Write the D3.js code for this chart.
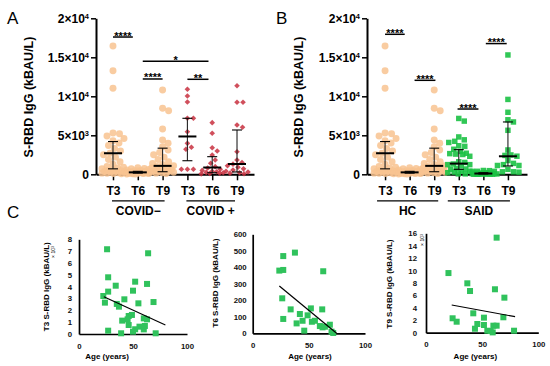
<!DOCTYPE html>
<html>
<head>
<meta charset="utf-8">
<script src="https://cdn.jsdelivr.net/npm/d3@7"></script>
<style>
body { margin: 0; background: #fff; }
svg { font-family: "Liberation Sans", Arial, sans-serif; }
</style>
</head>
<body>
<script>
"use strict";

// ---- data ----
var timeLabels = ["T3", "T6", "T9", "T3", "T6", "T9"];
var yTicks = [0, 5000, 10000, 15000, 20000];

// HC / COVID- (same cohort in A and B), kBAU/L
var hcT3 = [16450, 13280, 11030, 5300, 5200, 4900, 4600, 4300, 4000, 3700, 3300, 3000, 2700, 2500, 2200, 1900,
            1600, 1300, 1000, 900, 800, 700, 600, 500, 450, 400, 350, 300, 250, 200, 150, 120, 100, 80];
var hcT6 = [850, 750, 700, 620, 560, 500, 450, 420, 380, 350, 320, 300, 280, 260, 250, 240, 220, 200, 190, 170,
            150, 140, 120, 100, 90, 70, 50, 30];
var hcT9 = [10810, 8470, 8160, 5810, 4400, 3970, 3540, 3120, 2800, 2500, 2200, 1900, 1600, 1400, 1250, 1100,
            1000, 900, 800, 700, 600, 500, 450, 400, 350, 300, 250, 200, 150, 100];

// COVID+
var covT3 = [10900, 10040, 9270, 7180, 7180, 5460, 3970, 3460, 3210, 640, 640, 640];
var covT6 = [6620, 5260, 3410, 2990, 2480, 1840, 1410, 980, 800, 650, 500, 400, 330, 250, 200, 150, 100, 60];
var covT9 = [11360, 9230, 9230, 6320, 6030, 2900, 1840, 1500, 1300, 1100, 900, 700, 550, 400, 300, 200, 150, 80];

// SAID: age (years) and S-RBD IgG (T3, T9 in 10^3 kBAU/L; T6 in kBAU/L)
var saidT3Age = [26, 64, 27, 34, 52, 63, 50, 27, 22.5, 42, 24, 55, 69, 35, 37, 46, 49, 40, 45, 46, 60, 63, 56,
                 60, 61, 52, 50, 27, 39, 71];
var saidT3Val = [7.16, 6.82, 4.79, 4.08, 4.42, 4.23, 3.66, 3.58, 3.21, 2.93, 2.65, 2.59, 2.70, 2.54, 2.31, 1.52,
                 1.61, 1.13, 1.24, 0.76, 1.32, 1.24, 0.62, 0.39, 0.68, 0.40, 0.20, 0.28, 0.06, 0.06];
var saidT6Age = [37.6, 27.2, 23.7, 27.2, 62.8, 26.3, 33.8, 27.2, 42, 51.8, 61.9, 48.9, 39.1, 44.4, 52.7, 55.4,
                 59.8, 62.2, 64.3, 68.7, 45.9, 70.2, 71.7];
var saidT6Val = [489, 468, 380, 384, 376, 212, 145, 87, 117, 151, 145, 109, 60, 76, 70, 76, 44, 36, 40, 52, 16, 10, 2];
var saidT9Age = [62.9, 20, 36.8, 39.2, 61.4, 69.8, 42.1, 51.6, 68.9, 23.7, 27.3, 45.7, 51.6, 60, 62.9, 43.6,
                 54.6, 57.6, 59.4, 78.4];
var saidT9Val = [15.3, 9.6, 7.95, 6.71, 6.99, 5.64, 3.12, 2.42, 2.48, 2.32, 1.77, 1.40, 1.24, 1.13, 1.13, 0.64,
                 0.32, 0.27, 0.05, 0.32];

// median and interquartile range per column
var medA = [2700, 250, 1080, 4850, 870, 1320];
var q1A  = [700, 150, 330, 1740, 200, 300];
var q3A  = [4200, 380, 3350, 7180, 2260, 5680];
var medB = [2700, 250, 1080, 1370, 100, 2310];
var q1B  = [700, 150, 330, 640, 40, 1070];
var q3B  = [4200, 380, 3350, 3160, 200, 6710];

// significance brackets (column index from / to, level in kBAU/L)
var sigAFrom = [0, 1.2, 1.2, 3.0], sigATo = [0.8, 3.85, 2.0, 3.85];
var sigALevel = [17600, 14500, 12220, 12180], sigAText = ["****", "*", "****", "**"];
var sigBFrom = [0, 1.2, 2.95, 4.1], sigBTo = [0.8, 2.05, 3.8, 4.95];
var sigBLevel = [17950, 12050, 8370, 16760], sigBText = ["****", "****", "****", "****"];

// regression lines in C
var fitT3Age = [23, 80], fitT3Val = [3.15, 0.76];
var fitT6Age = [23.7, 74.7], fitT6Val = [287, 0];
var fitT9Age = [22.9, 79.3], fitT9Val = [4.46, 2.58];

var ORANGE = "#f8c391", RED = "#c8303f", GREEN = "#1bc144", GREEN_C = "#30c25c";

var svg = d3.select("body").append("svg")
    .attr("width", 550)
    .attr("height", 366);
svg.append("rect").attr("width", 550).attr("height", 366).attr("fill", "#fff");

// simple beeswarm: spread points sideways so they don't overlap
function swarm(vals, y, r, maxDx) {
  var pts = vals.map(function(v){ return {v: v, py: y(v)}; })
      .sort(function(a, b){ return b.v - a.v; });
  var placed = [];
  pts.forEach(function(p){
    var best = 0, bestScore = -1, done = false;
    for (var k = 0; k <= maxDx * 2 && !done; k++) {
      var cands = k === 0 ? [0] : [k * 0.5, -k * 0.5];
      for (var c = 0; c < cands.length; c++) {
        var dx = cands[c], minD = Infinity;
        placed.forEach(function(q){
          var d = Math.hypot(q.dx - dx, q.py - p.py);
          if (d < minD) minD = d;
        });
        if (minD >= 2 * r) { best = dx; done = true; break; }
        if (minD > bestScore) { bestScore = minD; best = dx; }
      }
    }
    p.dx = best;
    placed.push(p);
  });
  return pts;
}

function sciTicks(g) {
  g.selectAll(".tick text").each(function(d){
    var t = d3.select(this).text(null);
    if (d === 0) { t.text("0"); return; }
    var e = Math.floor(Math.log10(d)), m = d / Math.pow(10, e);
    t.append("tspan").text(m + "×10");
    t.append("tspan").attr("dy", "-0.55em").attr("font-size", "0.62em").text(e);
  });
}

function dotPanel(opt) {
  var g = svg.append("g");
  var y = d3.scaleLinear().domain([0, 20000]).range([174.3, 18.3]);
  var x = d3.scaleLinear().domain(opt.xDomain).range([opt.left, opt.right]);

  // y axis
  var gy = g.append("g")
      .attr("transform", "translate(" + opt.left + ",0)")
      .call(d3.axisLeft(y).tickValues(yTicks).tickSize(5).tickPadding(2).tickSizeOuter(0))
      .call(sciTicks);
  gy.selectAll("text").attr("font-size", 12).attr("font-weight", "bold").attr("fill", "#000");
  gy.selectAll("line").attr("stroke-width", 1.5);
  gy.select(".domain").attr("stroke-width", 2);

  // x axis
  var gx = g.append("g")
      .attr("transform", "translate(0," + y(0) + ")")
      .call(d3.axisBottom(x).tickValues(d3.range(6)).tickSize(6).tickPadding(6).tickSizeOuter(0)
        .tickFormat(function(i){ return timeLabels[i]; }));
  gx.selectAll("text").attr("font-size", 12).attr("font-weight", "bold").attr("fill", "#000");
  gx.selectAll("line").attr("stroke-width", 1.5);
  gx.select(".domain").attr("stroke-width", 2);

  g.append("text")
      .attr("transform", "translate(" + opt.labelX + ",97) rotate(-90)")
      .attr("dy", "0.35em")
      .attr("text-anchor", "middle")
      .attr("font-size", 12.5)
      .attr("font-weight", "bold")
      .text("S-RBD IgG (kBAU/L)");

  // points
  opt.columns.forEach(function(col, i){
    var pts = swarm(col.values, y, col.r, 11);
    var sym = d3.symbol().type(col.symbol).size(col.size);
    g.append("g").selectAll("path").data(pts).enter().append("path")
        .attr("transform", function(d){ return "translate(" + (x(i) + d.dx) + "," + d.py + ")"; })
        .attr("d", sym)
        .attr("fill", col.color)
        .attr("fill-opacity", col.opacity);
  });

  // median + IQR
  var eb = g.append("g").attr("stroke", "#000");
  d3.range(6).forEach(function(i){
    var cx = x(i);
    eb.append("line").attr("x1", cx).attr("x2", cx).attr("y1", y(opt.q1[i])).attr("y2", y(opt.q3[i]))
        .attr("stroke-width", 1.1).attr("stroke", "#222");
    [opt.q1[i], opt.q3[i]].forEach(function(v){
      eb.append("line").attr("x1", cx - 5).attr("x2", cx + 5).attr("y1", y(v)).attr("y2", y(v))
          .attr("stroke-width", 1.1);
    });
    eb.append("line").attr("x1", cx - 9).attr("x2", cx + 9).attr("y1", y(opt.med[i])).attr("y2", y(opt.med[i]))
        .attr("stroke-width", 2);
  });

  // significance brackets
  opt.sigFrom.forEach(function(f, i){
    var yy = y(opt.sigLevel[i]);
    g.append("line").attr("x1", x(f)).attr("x2", x(opt.sigTo[i])).attr("y1", yy).attr("y2", yy)
        .attr("stroke", "#000").attr("stroke-width", 1.5);
    g.append("text").attr("x", (x(f) + x(opt.sigTo[i])) / 2).attr("y", yy + 2.5)
        .attr("text-anchor", "middle").attr("font-size", 11).attr("font-weight", "bold")
        .text(opt.sigText[i]);
  });

  // group labels
  opt.groups.forEach(function(gr){
    g.append("line").attr("x1", x(gr.from) - gr.pad[0]).attr("x2", x(gr.to) + gr.pad[1])
        .attr("y1", 200.8).attr("y2", 200.8).attr("stroke", "#000").attr("stroke-width", 1.3);
    g.append("text").attr("x", (x(gr.from) - gr.pad[0] + x(gr.to) + gr.pad[1]) / 2).attr("y", 215)
        .attr("text-anchor", "middle").attr("font-size", 12).attr("font-weight", "bold").text(gr.name);
  });

  svg.append("text").attr("x", opt.letterX).attr("y", 24).attr("font-size", 17).text(opt.letter);
}

var circleCol = function(v){ return {values: v, symbol: d3.symbolCircle, size: 38, r: 3.2, color: ORANGE, opacity: 0.85}; };
var diamondCol = function(v){ return {values: v, symbol: d3.symbolDiamond2, size: 20, r: 2.8, color: RED, opacity: 0.85}; };
var squareCol = function(v){ return {values: v, symbol: d3.symbolSquare, size: 30, r: 2.9, color: GREEN, opacity: 0.9}; };

dotPanel({
  letter: "A", letterX: 7, left: 96, right: 254, xDomain: [-0.685, 5.685], labelX: 28.5,
  columns: [circleCol(hcT3), circleCol(hcT6), circleCol(hcT9), diamondCol(covT3), diamondCol(covT6), diamondCol(covT9)],
  med: medA, q1: q1A, q3: q3A,
  sigFrom: sigAFrom, sigTo: sigATo, sigLevel: sigALevel, sigText: sigAText,
  groups: [{name: "COVID−", from: 0, to: 2, pad: [1, 2]}, {name: "COVID +", from: 3, to: 5, pad: [1, -2]}]
});

dotPanel({
  letter: "B", letterX: 276, left: 367, right: 527, xDomain: [-0.735, 5.776], labelX: 299,
  columns: [circleCol(hcT3), circleCol(hcT6), circleCol(hcT9),
            squareCol(saidT3Val.map(function(v){ return v * 1000; })), squareCol(saidT6Val),
            squareCol(saidT9Val.map(function(v){ return v * 1000; }))],
  med: medB, q1: q1B, q3: q3B,
  sigFrom: sigBFrom, sigTo: sigBTo, sigLevel: sigBLevel, sigText: sigBText,
  groups: [{name: "HC", from: 0, to: 2, pad: [8, 4]}, {name: "SAID", from: 3, to: 5, pad: [11, 2]}]
});

// ---- panel C scatter plots ----
function scatter(opt) {
  var g = svg.append("g");
  var x = d3.scaleLinear().domain([0, 100]).range([opt.x0, opt.x1]);
  var y = d3.scaleLinear().domain([0, opt.ymax]).range([opt.y0, opt.y1]);

  var gx = g.append("g").attr("transform", "translate(0," + opt.y0 + ")")
      .call(d3.axisBottom(x).tickValues([0, 50, 100]).tickSize(0).tickPadding(9));
  var gy = g.append("g").attr("transform", "translate(" + opt.x0 + ",0)")
      .call(d3.axisLeft(y).ticks(opt.ymax / opt.step).tickSize(0).tickPadding(opt.pad));
  [gx, gy].forEach(function(a){
    a.select(".domain").attr("stroke-width", 1.7);
    a.selectAll("text").attr("font-size", 7.8).attr("font-weight", "bold").attr("fill", "#111");
  });

  g.append("g").selectAll("rect").data(opt.age).enter().append("rect")
      .attr("x", function(d){ return x(d) - 3; })
      .attr("y", function(d, i){ return y(opt.val[i]) - 3; })
      .attr("width", 6).attr("height", 6)
      .attr("fill", GREEN_C);

  g.append("line")
      .attr("x1", x(opt.fitAge[0])).attr("y1", y(opt.fitVal[0]))
      .attr("x2", x(opt.fitAge[1])).attr("y2", y(opt.fitVal[1]))
      .attr("stroke", "#000").attr("stroke-width", 1.2);

  g.append("text").attr("x", x(opt.titleAt)).attr("y", 359)
      .attr("text-anchor", "middle").attr("font-size", 8).attr("font-weight", "bold")
      .text("Age (years)");
  g.append("text")
      .attr("transform", "translate(" + opt.labelX + "," + opt.labelY + ") rotate(-90)")
      .attr("dy", "0.35em").attr("text-anchor", "middle")
      .attr("font-size", 8).attr("font-weight", "bold")
      .text(opt.title);
  if (opt.unit) {
    var u = g.append("text")
        .attr("transform", "translate(" + opt.unit[0] + "," + opt.unit[1] + ") rotate(-90)")
        .attr("dy", "0.35em").attr("text-anchor", "middle").attr("font-size", 5);
    u.append("tspan").text("× 10");
    u.append("tspan").attr("dy", "-0.5em").attr("font-size", 3.5).text("3");
  }
}

svg.append("text").attr("x", 7).attr("y", 218).attr("font-size", 17).text("C");

scatter({x0: 79, x1: 187, y0: 334, y1: 239.3, ymax: 8, step: 1, pad: 7,
  age: saidT3Age, val: saidT3Val, fitAge: fitT3Age, fitVal: fitT3Val,
  title: "T3 S-RBD IgG (kBAU/L)", labelX: 46.5, labelY: 286.7, titleAt: 26, unit: [53.5, 252]});
scatter({x0: 252.7, x1: 365, y0: 333.3, y1: 234.3, ymax: 600, step: 100, pad: 6,
  age: saidT6Age, val: saidT6Val, fitAge: fitT6Age, fitVal: fitT6Val,
  title: "T6 S-RBD IgG (kBAU/L)", labelX: 215, labelY: 283, titleAt: 51});
scatter({x0: 426, x1: 538.3, y0: 332.7, y1: 233.3, ymax: 16, step: 2, pad: 9,
  age: saidT9Age, val: saidT9Val, fitAge: fitT9Age, fitVal: fitT9Val,
  title: "T9 S-RBD IgG (kBAU/L)", labelX: 389.5, labelY: 284, titleAt: 44, unit: [422.5, 240]});
</script>
</body>
</html>
